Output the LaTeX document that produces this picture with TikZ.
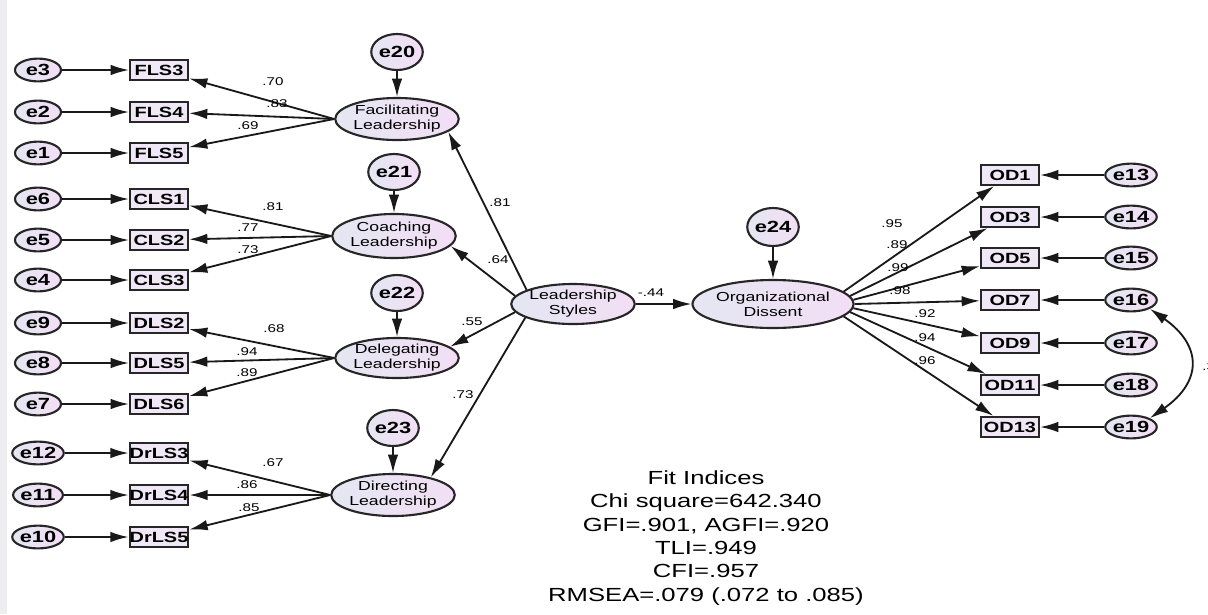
\documentclass[tikz,border=0pt]{standalone}
\usepackage{fontspec}
\setmainfont{Liberation Sans}[FakeStretch=1.35]
\usetikzlibrary{shapes.geometric,arrows.meta}
\tikzset{>={Latex[length=13pt,width=7.5pt]}}
\definecolor{lavleft}{RGB}{228,231,242}
\definecolor{lavright}{RGB}{243,222,245}
\definecolor{boxfill}{RGB}{240,232,246}
\definecolor{stripgray}{RGB}{238,238,240}
\tikzset{
  errnode/.style={ellipse, draw=black!85, line width=1.5pt, left color=lavleft, right color=lavright,
    inner sep=0pt, minimum width=1.15cm, minimum height=0.57cm, font=\fontsize{11.5}{12}\selectfont\bfseries},
  distnode/.style={errnode, minimum width=1.1cm, minimum height=0.9cm},
  indbox/.style={rectangle, draw=black!85, line width=1.5pt, fill=boxfill, inner sep=0pt,
    minimum width=1.45cm, minimum height=0.5cm, font=\fontsize{10.5}{11}\selectfont\bfseries},
  latent/.style={ellipse, draw=black!85, line width=1.5pt, left color=lavleft, right color=lavright,
    inner sep=0pt, minimum width=3cm, minimum height=1.05cm, align=center, font=\fontsize{9.3}{10.7}\selectfont},
  coef/.style={inner sep=0pt, font=\fontsize{8}{9}\selectfont},
  link/.style={->, line width=1.3pt, black!90}
}

\begin{document}
\begin{tikzpicture}[x=0.025cm, y=-0.025cm]
    \fill[white] (0,0) rectangle (1208,614);
    \useasboundingbox (0,0) rectangle (1208,614);
    \fill[stripgray] (0,0) rectangle (7,614);

    % second-order factor and outcome
    \node[latent, minimum height=1cm] (ls) at (573,304) {Leadership\\Styles};
    \node[latent, minimum width=3.7cm, minimum height=1.2cm] (od) at (773,304) {Organizational\\Dissent};
    \node[distnode, minimum width=1.2cm, minimum height=0.95cm] (e24) at (773,227) {e24};

    % first-order factors
    \node[latent] (fl) at (397,119) {Facilitating\\Leadership};
    \node[latent, minimum width=3.05cm, minimum height=1.1cm] (cl) at (394,236) {Coaching\\Leadership};
    \node[latent, minimum height=1cm] (dl) at (397,358) {Delegating\\Leadership};
    \node[latent] (drl) at (393,495) {Directing\\Leadership};
    \node[distnode] (e20) at (397,52) {e20};
    \node[distnode] (e21) at (394,172) {e21};
    \node[distnode] (e22) at (397,293) {e22};
    \node[distnode] (e23) at (393,428) {e23};

    % left indicators
    \node[indbox] (fls3) at (159,70) {FLS3};
    \node[indbox] (fls4) at (159,112) {FLS4};
    \node[indbox] (fls5) at (159,153) {FLS5};
    \node[indbox] (cls1) at (159,199) {CLS1};
    \node[indbox] (cls2) at (159,240) {CLS2};
    \node[indbox] (cls3) at (159,280) {CLS3};
    \node[indbox] (dls2) at (159,323) {DLS2};
    \node[indbox] (dls5) at (159,363) {DLS5};
    \node[indbox] (dls6) at (159,404) {DLS6};
    \node[indbox] (drls3) at (159,453) {DrLS3};
    \node[indbox] (drls4) at (159,495) {DrLS4};
    \node[indbox] (drls5) at (159,537) {DrLS5};

    \node[errnode] (e3) at (38,70) {e3};
    \node[errnode] (e2) at (38,112) {e2};
    \node[errnode] (e1) at (38,153) {e1};
    \node[errnode] (e6) at (38,199) {e6};
    \node[errnode] (e5) at (38,240) {e5};
    \node[errnode] (e4) at (38,280) {e4};
    \node[errnode] (e9) at (38,323) {e9};
    \node[errnode] (e8) at (38,363) {e8};
    \node[errnode] (e7) at (38,404) {e7};
    \node[errnode] (e12) at (38,453) {e12};
    \node[errnode] (e11) at (38,495) {e11};
    \node[errnode] (e10) at (38,537) {e10};

    % right indicators
    \node[indbox] (od1) at (1010,175) {OD1};
    \node[indbox] (od3) at (1010,217) {OD3};
    \node[indbox] (od5) at (1010,258) {OD5};
    \node[indbox] (od7) at (1010,300) {OD7};
    \node[indbox] (od9) at (1010,343) {OD9};
    \node[indbox] (od11) at (1010,385) {OD11};
    \node[indbox] (od13) at (1010,427) {OD13};

    \node[errnode] (e13) at (1131,175) {e13};
    \node[errnode] (e14) at (1131,217) {e14};
    \node[errnode] (e15) at (1131,258) {e15};
    \node[errnode] (e16) at (1131,300) {e16};
    \node[errnode] (e17) at (1131,343) {e17};
    \node[errnode] (e18) at (1131,385) {e18};
    \node[errnode] (e19) at (1131,427) {e19};

    % structural paths
    \draw[link] (ls.163) -- (fl.-14);
    \draw[link] (ls.172) -- (cl.-10);
    \draw[link] (ls.188) -- (dl.12);
    \draw[link] (ls.196) -- (drl.25);
    \draw[link] (ls) -- (od);
    \draw[link] (e20) -- (fl);
    \draw[link] (e21) -- (cl);
    \draw[link] (e22) -- (dl);
    \draw[link] (e23) -- (drl);
    \draw[link] (e24) -- (od);

    % loadings, left side
    \draw[link] (fl.west) -- (fls3);
    \draw[link] (fl.west) -- (fls4);
    \draw[link] (fl.west) -- (fls5);
    \draw[link] (cl.west) -- (cls1);
    \draw[link] (cl.west) -- (cls2);
    \draw[link] (cl.west) -- (cls3);
    \draw[link] (dl.west) -- (dls2);
    \draw[link] (dl.west) -- (dls5);
    \draw[link] (dl.west) -- (dls6);
    \draw[link] (drl.west) -- (drls3);
    \draw[link] (drl.west) -- (drls4);
    \draw[link] (drl.west) -- (drls5);

    \draw[link] (e3) -- (fls3);
    \draw[link] (e2) -- (fls4);
    \draw[link] (e1) -- (fls5);
    \draw[link] (e6) -- (cls1);
    \draw[link] (e5) -- (cls2);
    \draw[link] (e4) -- (cls3);
    \draw[link] (e9) -- (dls2);
    \draw[link] (e8) -- (dls5);
    \draw[link] (e7) -- (dls6);
    \draw[link] (e12) -- (drls3);
    \draw[link] (e11) -- (drls4);
    \draw[link] (e10) -- (drls5);

    % loadings, right side
    \draw[link] (od.10) -- (od1);
    \draw[link] (od.6.5) -- (od3);
    \draw[link] (od.3.3) -- (od5);
    \draw[link] (od.0) -- (od7);
    \draw[link] (od.-3.3) -- (od9);
    \draw[link] (od.-6.5) -- (od11);
    \draw[link] (od.-10) -- (od13);

    \draw[link] (e13) -- (od1);
    \draw[link] (e14) -- (od3);
    \draw[link] (e15) -- (od5);
    \draw[link] (e16) -- (od7);
    \draw[link] (e17) -- (od9);
    \draw[link] (e18) -- (od11);
    \draw[link] (e19) -- (od13);

    \draw[<->, line width=1.3pt, black!90] (e16.-25) to[out=-35, in=35, looseness=1.5] (e19.25);

    % coefficients
    \node[coef] (c70) at (273,82) {.70};
    \node[coef] (c83) at (277,104) {.83};
    \node[coef] (c69) at (248,126) {.69};
    \node[coef] (c81a) at (273,207) {.81};
    \node[coef] (c77) at (248,228) {.77};
    \node[coef] (c73a) at (248,250) {.73};
    \node[coef] (c68) at (274,329) {.68};
    \node[coef] (c94a) at (247,352) {.94};
    \node[coef] (c89a) at (247,373) {.89};
    \node[coef] (c67) at (273,463) {.67};
    \node[coef] (c86) at (247,485) {.86};
    \node[coef] (c85) at (249,508) {.85};

    \node[coef] (c81b) at (500,203) {.81};
    \node[coef] (c64) at (498,260) {.64};
    \node[coef] (c55) at (472,322) {.55};
    \node[coef] (c73b) at (463,395) {.73};
    \node[coef] (c44) at (651,293) {-.44};

    \node[coef] (c95) at (892,224) {.95};
    \node[coef] (c89b) at (897,245) {.89};
    \node[coef] (c99) at (898,268) {.99};
    \node[coef] (c98) at (900,291) {.98};
    \node[coef] (c92) at (925,314) {.92};
    \node[coef] (c94b) at (925,338) {.94};
    \node[coef] (c96) at (925,361) {.96};
    \node[coef, anchor=west] (cov) at (1202,367) {.3};

    % fit indices
    \node[align=center, inner sep=0pt, font=\fontsize{13.5}{16.6}\selectfont] (fit) at (706,538)
      {Fit Indices\\Chi square=642.340\\GFI=.901, AGFI=.920\\TLI=.949\\CFI=.957\\RMSEA=.079 (.072 to .085)};
\end{tikzpicture}
\end{document}
